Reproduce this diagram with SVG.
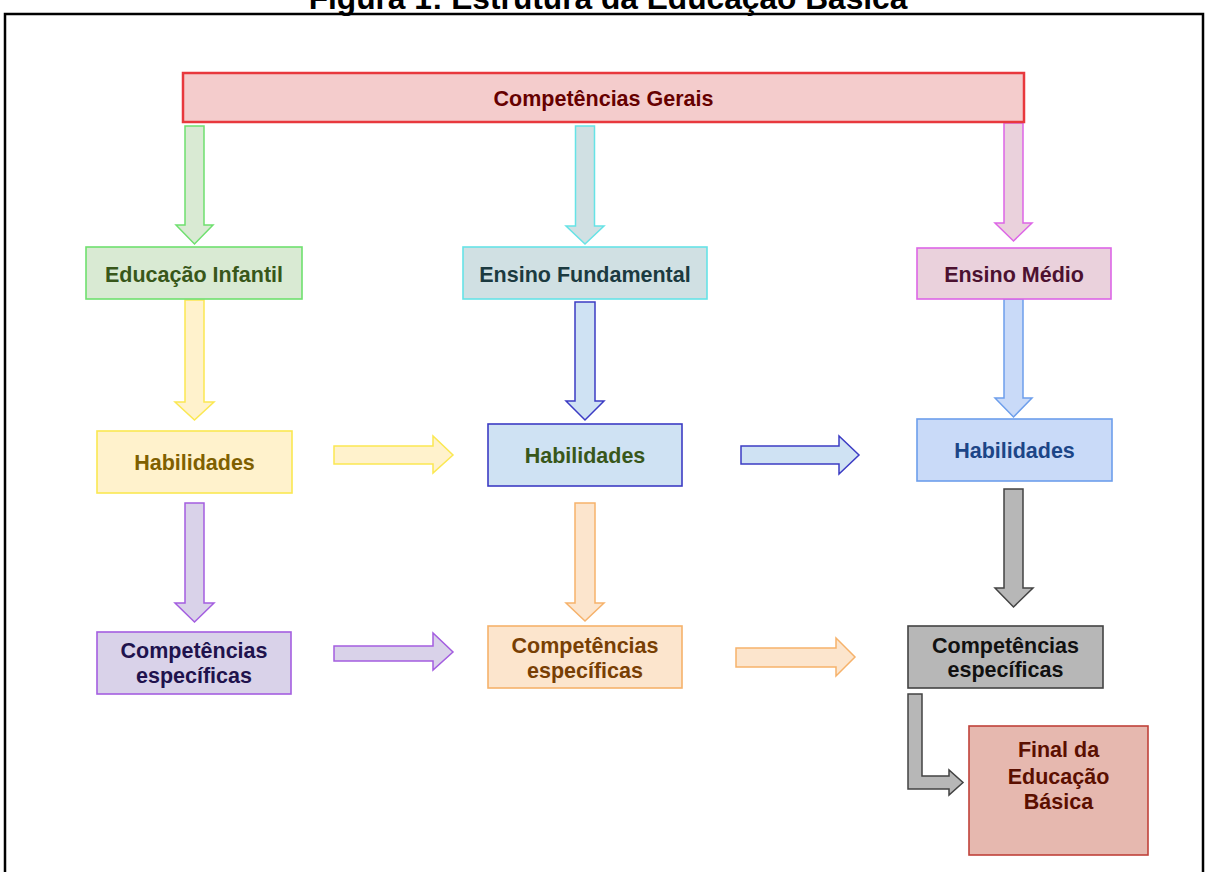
<svg xmlns="http://www.w3.org/2000/svg" width="1207" height="872" viewBox="0 0 1207 872">
<style>
text{font-family:"Liberation Sans",Arial,sans-serif;font-weight:bold;text-anchor:middle;font-size:21.5px}
.title{font-size:31.7px;fill:#000}
.arr{stroke-width:1.5;stroke-linejoin:miter}
.box{stroke-width:1.6}
.red{fill:#f4cccc;stroke:#e8383d}
.green{fill:#d9ead3;stroke:#6fe06f}
.cyan{fill:#d0e0e3;stroke:#66e3e6}
.pink{fill:#ead1dc;stroke:#dd66e6}
.yellow{fill:#fff2cc;stroke:#fbe852}
.blue{fill:#cfe2f3;stroke:#3c3cc4}
.lblue{fill:#c9daf8;stroke:#6d9eeb}
.purple{fill:#d9d2e9;stroke:#a45ee0}
.orange{fill:#fce5cd;stroke:#f6b26b}
.grey{fill:#b7b7b7;stroke:#434343}
.final{fill:#e6b8af;stroke:#c0423a}
</style>
<rect width="1207" height="872" fill="#fff"/>
<text class="title" x="608" y="9">Figura 1: Estrutura da Educação Básica</text>
<rect x="5" y="14" width="1198" height="900" fill="none" stroke="#000" stroke-width="2.5"/>
<g id="connectors">
<path class="arr green" d="M185,126H204V225H213L194.5,244L176,225H185Z"/>
<path class="arr cyan" d="M575.5,126H594.5V226H604L585,244L566,226H575.5Z"/>
<path class="arr pink" d="M1004,123H1023V223H1032L1013.5,241L995,223H1004Z"/>
<path class="arr yellow" d="M185,300H204V402H214L194.5,420L175,402H185Z"/>
<path class="arr blue" d="M575,302H595V401H604L585,420L566,401H575Z"/>
<path class="arr lblue" d="M1004,299H1023V398H1032L1013.5,417L995,398H1004Z"/>
<path class="arr purple" d="M185,503H204V603H214L194.5,622L175,603H185Z"/>
<path class="arr orange" d="M575,503H595V603H604L585,621L566,603H575Z"/>
<path class="arr grey" d="M1004,489H1023V588H1033L1013.5,607L995,588H1004Z"/>
<path class="arr yellow" d="M334,446H433V436L453,455L433,473V464H334Z"/>
<path class="arr blue" d="M741,446H839V436L859,455L839,474V464H741Z"/>
<path class="arr purple" d="M334,646H433V633L453,652L433,670V661H334Z"/>
<path class="arr orange" d="M736,648H836V638L855,657L836,676V667H736Z"/>
<path class="arr grey" d="M908,694H922V776H949V770L963,782.5L949,795V789H908Z"/>
</g>
<g id="competencias-gerais"><rect class="red" x="183" y="73" width="841" height="49" stroke-width="2.5"/><text x="603.5" y="106" fill="#660000">Competências Gerais</text></g>
<g id="educacao-infantil"><rect class="box green" x="86" y="247" width="216" height="52"/><text x="194" y="282" fill="#38571a">Educação Infantil</text></g>
<g id="ensino-fundamental"><rect class="box cyan" x="463" y="247" width="244" height="52"/><text x="585" y="282" fill="#1b3a40">Ensino Fundamental</text></g>
<g id="ensino-medio"><rect class="box pink" x="917" y="248" width="194" height="51"/><text x="1014" y="282" fill="#4c1130">Ensino Médio</text></g>
<g id="habilidades-ei"><rect class="box yellow" x="97" y="431" width="195" height="62"/><text x="194.5" y="470" fill="#7f6000">Habilidades</text></g>
<g id="habilidades-ef"><rect class="box blue" x="488" y="424" width="194" height="62"/><text x="585" y="463" fill="#38571a">Habilidades</text></g>
<g id="habilidades-em"><rect class="box lblue" x="917" y="419" width="195" height="62"/><text x="1014.5" y="458" fill="#1c4587">Habilidades</text></g>
<g id="competencias-ei"><rect class="box purple" x="97" y="632" width="194" height="62"/><text x="194" y="658" fill="#20124d">Competências</text><text x="194" y="683" fill="#20124d">específicas</text></g>
<g id="competencias-ef"><rect class="box orange" x="488" y="626" width="194" height="62"/><text x="585" y="653" fill="#783f04">Competências</text><text x="585" y="678" fill="#783f04">específicas</text></g>
<g id="competencias-em"><rect class="box grey" x="908" y="626" width="195" height="62"/><text x="1005.5" y="653" fill="#111">Competências</text><text x="1005.5" y="677" fill="#111">específicas</text></g>
<g id="final"><rect class="box final" x="969" y="726" width="179" height="129"/><text x="1058.5" y="757" fill="#5b0f00">Final da</text><text x="1058.5" y="784" fill="#5b0f00">Educação</text><text x="1058.5" y="809" fill="#5b0f00">Básica</text></g>
</svg>
